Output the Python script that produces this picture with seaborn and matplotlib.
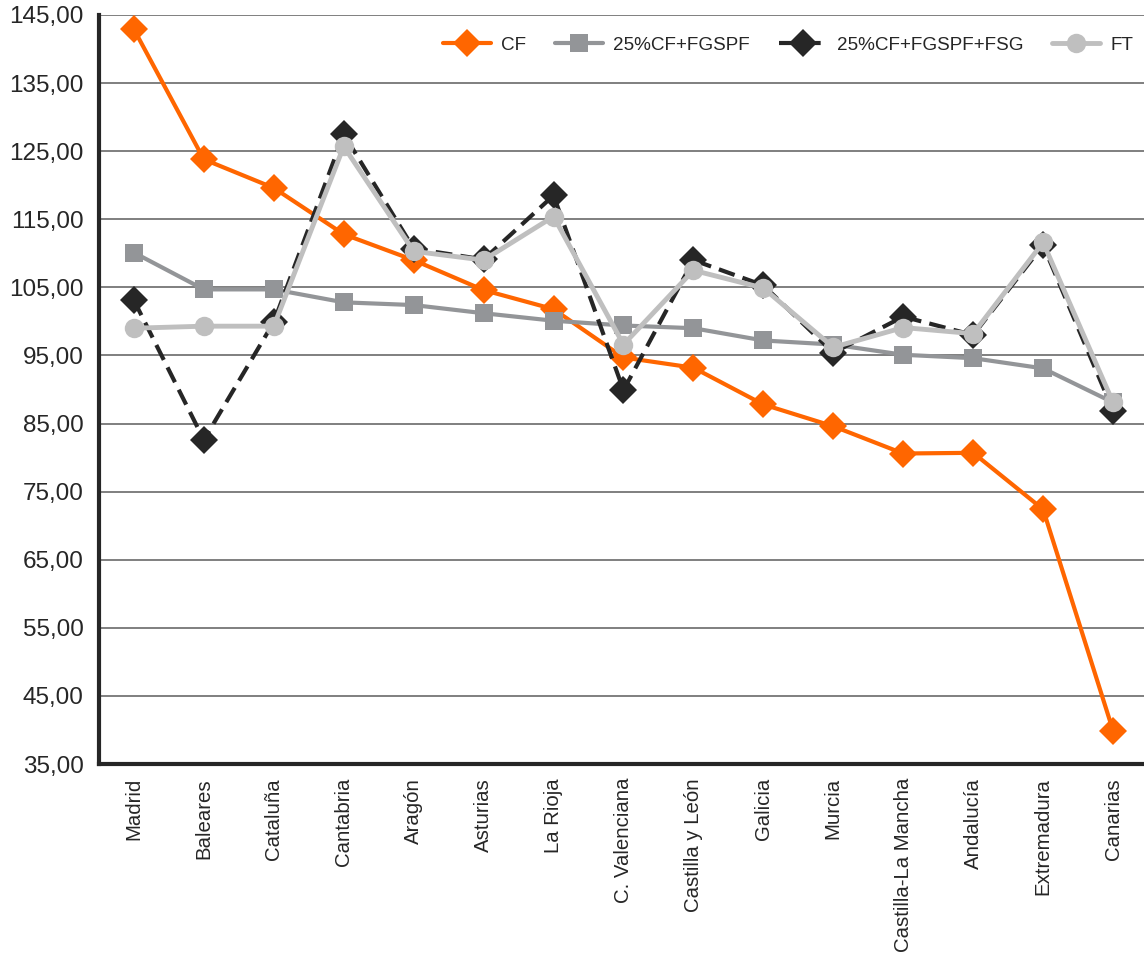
import numpy as np
import pandas as pd
import matplotlib
matplotlib.use("Agg")
import matplotlib.pyplot as plt
from matplotlib.ticker import FuncFormatter, FixedLocator
import seaborn as sns

regions = ["Madrid", "Baleares", "Cataluña", "Cantabria", "Aragón", "Asturias",
           "La Rioja", "C. Valenciana", "Castilla y León", "Galicia", "Murcia",
           "Castilla-La Mancha", "Andalucía", "Extremadura", "Canarias"]

cf = [142.9, 123.8, 119.6, 112.8, 109.0, 104.6, 101.8, 94.7, 93.2, 87.8, 84.6, 80.6, 80.7, 72.4, 39.9]
cf_fgspf = [110.1, 104.7, 104.7, 102.8, 102.4, 101.2, 100.1, 99.4, 99.0, 97.2, 96.6, 95.1, 94.6, 93.1, 88.1]
cf_fgspf_fsg = [103.1, 82.6, 99.9, 127.5, 110.7, 109.1, 118.5, 89.9, 109.0, 105.3, 95.4, 100.7, 98.0, 111.2, 86.9]
ft = [99.0, 99.3, 99.3, 125.7, 110.3, 109.0, 115.4, 96.6, 107.5, 104.9, 96.2, 99.1, 98.2, 111.6, 88.1]

series_names = ["CF", "25%CF+FGSPF", "25%CF+FGSPF+FSG", "FT"]
yticks = list(range(35, 146, 10))

sns.set_style("white")
plt.rcParams["font.family"] = ["Liberation Sans", "DejaVu Sans"]

fig = plt.figure(figsize=(11.44, 9.55), dpi=100)
ax = fig.add_axes([0.0865, 0.2, 0.917, 0.7843])

df = pd.DataFrame({"region": regions, "CF": cf, "25%CF+FGSPF": cf_fgspf,
                   "25%CF+FGSPF+FSG": cf_fgspf_fsg, "FT": ft})

styles = {
    "CF": dict(color="#FF6600", marker="D", markersize=14, linewidth=3.0, linestyle="-"),
    "25%CF+FGSPF": dict(color="#939598", marker="s", markersize=13, linewidth=3.0, linestyle="-"),
    "25%CF+FGSPF+FSG": dict(color="#262626", marker="D", markersize=14.5, linewidth=3.0, linestyle=(0, (4, 2))),
    "FT": dict(color="#BFBFBF", marker="o", markersize=14, linewidth=3.5, linestyle="-"),
}

for name in series_names:
    st = styles[name]
    sns.lineplot(data=df, x="region", y=name, ax=ax, sort=False, label=name,
                 color=st["color"], marker=st["marker"], markersize=st["markersize"],
                 linewidth=st["linewidth"], linestyle=st["linestyle"],
                 markeredgewidth=0, markeredgecolor=st["color"])

ax.set_xlim(-0.5, len(regions) - 0.5)
ax.set_ylim(35, 145)
ax.set_yticks(yticks)
ax.yaxis.set_major_formatter(FuncFormatter(lambda v, p: f"{v:.2f}".replace(".", ",")))
ax.set_xticks(range(len(regions)))
ax.set_xticklabels(regions, rotation=90, fontsize=14.7, color="#262626")
ax.xaxis.set_minor_locator(FixedLocator(np.arange(-0.5, len(regions), 1.0)))
ax.tick_params(axis="x", which="major", length=0, pad=10)
ax.tick_params(axis="x", which="minor", length=9, width=2.2, color="#262626", direction="out")
ax.tick_params(axis="y", which="major", length=8, width=2.2, color="#262626", direction="out",
               labelsize=17.5, labelcolor="#262626", pad=3)
ax.set_xlabel("")
ax.set_ylabel("")

ax.yaxis.grid(True, color="#7f7f7f", linewidth=1.4)
ax.xaxis.grid(False)
ax.set_axisbelow(True)
for s in ["top", "right"]:
    ax.spines[s].set_visible(False)
for s in ["left", "bottom"]:
    ax.spines[s].set_color("#262626")
    ax.spines[s].set_linewidth(3)

leg = ax.legend(loc="center left", bbox_to_anchor=(0.3204, 0.96), ncol=4, frameon=False,
                fontsize=13.6, handlelength=2.55, handletextpad=0.53, columnspacing=1.53,
                borderaxespad=0)
for t in leg.get_texts():
    t.set_color("#262626")

fig.savefig("out.png", dpi=100)
